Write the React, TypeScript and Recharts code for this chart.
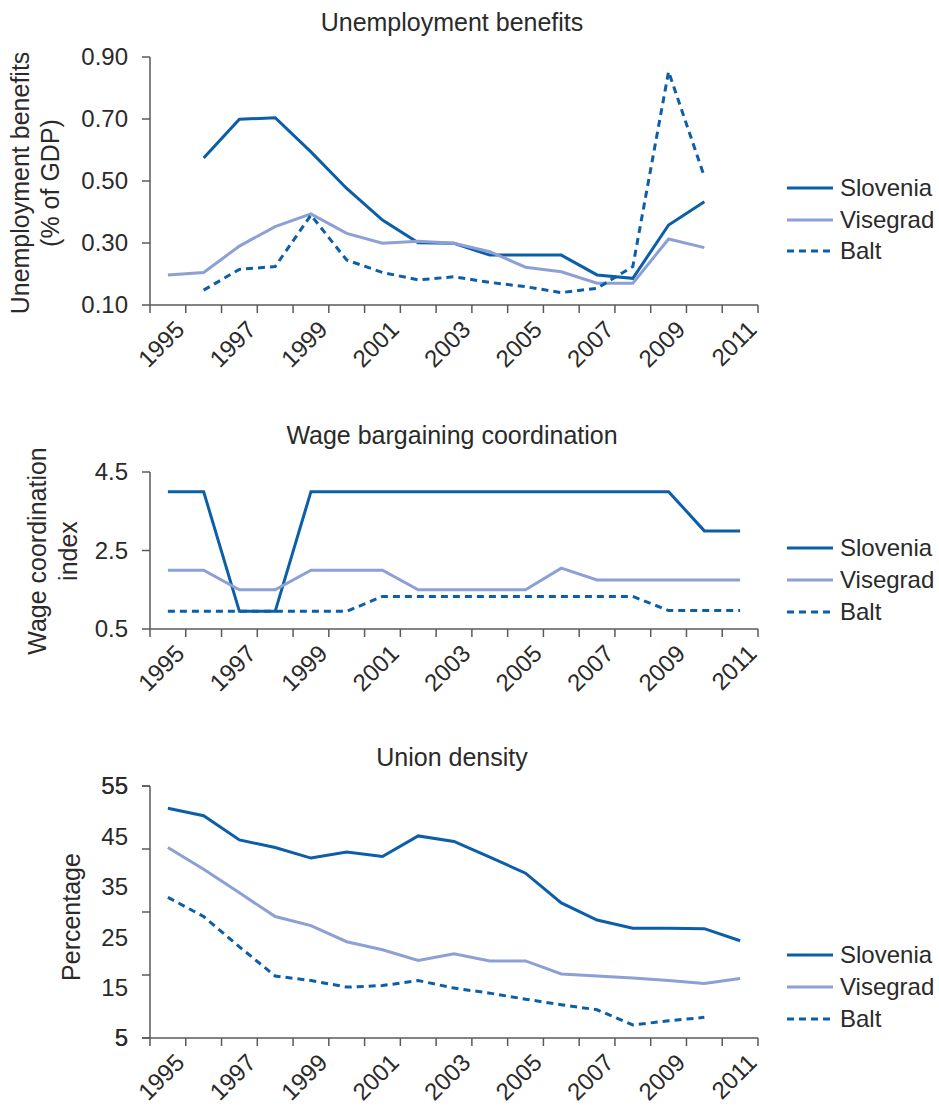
import { LineChart, Line, XAxis, YAxis } from "recharts";

const years = [1995, 1996, 1997, 1998, 1999, 2000, 2001, 2002, 2003, 2004, 2005, 2006, 2007, 2008, 2009, 2010, 2011];

// Unemployment benefits, % of GDP
const benefitSlovenia = [null, 0.574, 0.699, 0.704, 0.594, 0.476, 0.374, 0.301, 0.299, 0.261, 0.261, 0.261, 0.197, 0.186, 0.358, 0.433, null];
const benefitVisegrad = [0.197, 0.205, 0.29, 0.353, 0.394, 0.331, 0.299, 0.306, 0.299, 0.272, 0.222, 0.207, 0.17, 0.17, 0.313, 0.285, null];
const benefitBalt = [null, 0.148, 0.215, 0.224, 0.39, 0.245, 0.205, 0.181, 0.191, 0.173, 0.159, 0.14, 0.154, 0.224, 0.853, 0.514, null];

// Wage coordination index
const wageSlovenia = [4, 4, 0.95, 0.95, 4, 4, 4, 4, 4, 4, 4, 4, 4, 4, 4, 3, 3];
const wageVisegrad = [2, 2, 1.5, 1.5, 2, 2, 2, 1.5, 1.5, 1.5, 1.5, 2.05, 1.75, 1.75, 1.75, 1.75, 1.75];
const wageBalt = [0.95, 0.95, 0.95, 0.95, 0.95, 0.95, 1.33, 1.33, 1.33, 1.33, 1.33, 1.33, 1.33, 1.33, 0.97, 0.97, 0.97];

// Union density, %
const unionSlovenia = [50.6, 49.1, 44.3, 42.8, 40.7, 41.9, 41.0, 45.1, 44.0, 40.9, 37.7, 31.8, 28.4, 26.8, 26.8, 26.7, 24.3];
const unionVisegrad = [42.8, 38.5, 33.8, 29.1, 27.3, 24.1, 22.5, 20.4, 21.7, 20.3, 20.3, 17.7, 17.3, 16.9, 16.4, 15.8, 16.8];
const unionBalt = [32.9, 29.1, 23.1, 17.3, 16.4, 15.1, 15.4, 16.4, 14.9, 13.9, 12.7, 11.6, 10.6, 7.6, 8.4, 9.1, null];

const benefitTicks = [0.1, 0.3, 0.5, 0.7, 0.9];
const wageTicks = [0.5, 2.5, 4.5];
const unionLabels = [5, 15, 25, 35, 45, 55];
const unionMarks = [5, 17.5, 30, 42.5, 55];

const DARK = "#0b5ea8";
const LIGHT = "#8ca0d5";
const TEXT = "#2a2a2a";
const AXIS = "#5a5a5a";
const FONT = "'Liberation Sans', Arial, sans-serif";

const series = [
  { key: "slovenia", name: "Slovenia", color: DARK, dash: undefined as string | undefined },
  { key: "visegrad", name: "Visegrad", color: LIGHT, dash: undefined as string | undefined },
  { key: "balt", name: "Balt", color: DARK, dash: "7 5" },
];

const rows = (sl: (number | null)[], vi: (number | null)[], ba: (number | null)[]) =>
  years.map((year, i) => ({ year, slovenia: sl[i], visegrad: vi[i], balt: ba[i] }));

// category boundaries get the tick marks, odd years get labels
const xTicks = years.flatMap((y) => [y - 0.5, y]).concat(years[years.length - 1] + 0.5);

function XTick(props: any) {
  const { x, y, payload } = props;
  const v = payload.value as number;
  if (!Number.isInteger(v)) {
    return <line x1={x} x2={x} y1={y} y2={y + 8} stroke={AXIS} strokeWidth={1.5} />;
  }
  if (v % 2 === 0) return <g />;
  const tx = x + 6;
  const ty = y + 14;
  return (
    <text x={tx} y={ty} dy="0.71em" textAnchor="end" transform={`rotate(-45 ${tx} ${ty})`}
      fill={TEXT} fontSize={24} fontFamily={FONT}>
      {v}
    </text>
  );
}

const makeYTick = (labels: number[], marks: number[], digits: number) => (props: any) => {
  const { x, y, payload } = props;
  const v = payload.value as number;
  return (
    <g>
      {marks.includes(v) && <line x1={x - 8} x2={x} y1={y} y2={y} stroke={AXIS} strokeWidth={1.5} />}
      {labels.includes(v) && (
        <text x={x - 22} y={y} dy="0.35em" textAnchor="end" fill={TEXT} fontSize={24} fontFamily={FONT}>
          {v.toFixed(digits)}
        </text>
      )}
    </g>
  );
};

interface PanelProps {
  top: number;
  height: number;
  marginTop: number;
  xAxisHeight: number;
  data: any[];
  domain: [number, number];
  yTicks: number[];
  yTick: (p: any) => any;
}

function Panel({ top, height, marginTop, xAxisHeight, data, domain, yTicks, yTick }: PanelProps) {
  return (
    <div style={{ position: "absolute", left: 0, top }}>
      <LineChart width={939} height={height} data={data}
        margin={{ top: marginTop, right: 181, bottom: 0, left: 90 }}>
        <XAxis dataKey="year" type="number" domain={[1994.5, 2011.5]} ticks={xTicks} interval={0}
          height={xAxisHeight} tickSize={0} tickMargin={0} tickLine={false}
          axisLine={{ stroke: AXIS, strokeWidth: 1.5 }} tick={XTick} />
        <YAxis type="number" domain={domain} ticks={yTicks} interval={0} width={60}
          tickSize={0} tickMargin={0} tickLine={false}
          axisLine={{ stroke: AXIS, strokeWidth: 1.5 }} tick={yTick} />
        {series.map((s) => (
          <Line key={s.key} type="linear" dataKey={s.key} name={s.name} stroke={s.color}
            strokeWidth={3} strokeDasharray={s.dash} dot={false} activeDot={false}
            isAnimationActive={false} />
        ))}
      </LineChart>
    </div>
  );
}

function LegendBlock({ ys }: { ys: number[] }) {
  return (
    <g>
      {series.map((s, i) => (
        <g key={s.key}>
          <line x1={787} x2={833} y1={ys[i]} y2={ys[i]} stroke={s.color} strokeWidth={3}
            strokeDasharray={s.dash ? "7 5" : undefined} />
          <text x={840} y={ys[i]} dy="0.35em" fill={TEXT} fontSize={24} fontFamily={FONT}>{s.name}</text>
        </g>
      ))}
    </g>
  );
}

function VLabel({ x, y, text }: { x: number; y: number; text: string }) {
  return (
    <text x={x} y={y} textAnchor="middle" transform={`rotate(-90 ${x} ${y})`}
      fill={TEXT} fontSize={25} fontFamily={FONT}>
      {text}
    </text>
  );
}

function Title({ y, text }: { y: number; text: string }) {
  return (
    <text x={452} y={y} dy="0.35em" textAnchor="middle" fill={TEXT} fontSize={25} fontFamily={FONT}>
      {text}
    </text>
  );
}

export default function App() {
  return (
    <div style={{ position: "absolute", left: 0, top: 0, width: 939, height: 1106, background: "#fff" }}>
      <Panel top={0} height={385} marginTop={57} xAxisHeight={80}
        data={rows(benefitSlovenia, benefitVisegrad, benefitBalt)} domain={[0.1, 0.9]}
        yTicks={benefitTicks} yTick={makeYTick(benefitTicks, benefitTicks, 2)} />
      <Panel top={400} height={309} marginTop={72} xAxisHeight={80}
        data={rows(wageSlovenia, wageVisegrad, wageBalt)} domain={[0.5, 4.5]}
        yTicks={wageTicks} yTick={makeYTick(wageTicks, wageTicks, 1)} />
      <Panel top={720} height={386} marginTop={66} xAxisHeight={68}
        data={rows(unionSlovenia, unionVisegrad, unionBalt)} domain={[5, 55]}
        yTicks={[...unionLabels, ...unionMarks].sort((a, b) => a - b)}
        yTick={makeYTick(unionLabels, unionMarks, 0)} />
      <svg width={939} height={1106} style={{ position: "absolute", left: 0, top: 0, pointerEvents: "none" }}>
        <Title y={22} text="Unemployment benefits" />
        <Title y={435} text="Wage bargaining coordination" />
        <Title y={757} text="Union density" />
        <VLabel x={29} y={183} text="Unemployment benefits" />
        <VLabel x={59} y={183} text="(% of GDP)" />
        <VLabel x={46} y={551} text="Wage coordination" />
        <VLabel x={77} y={551} text="index" />
        <VLabel x={80} y={917} text="Percentage" />
        <LegendBlock ys={[188, 220, 251]} />
        <LegendBlock ys={[548, 580, 612]} />
        <LegendBlock ys={[955, 987, 1019]} />
      </svg>
    </div>
  );
}
